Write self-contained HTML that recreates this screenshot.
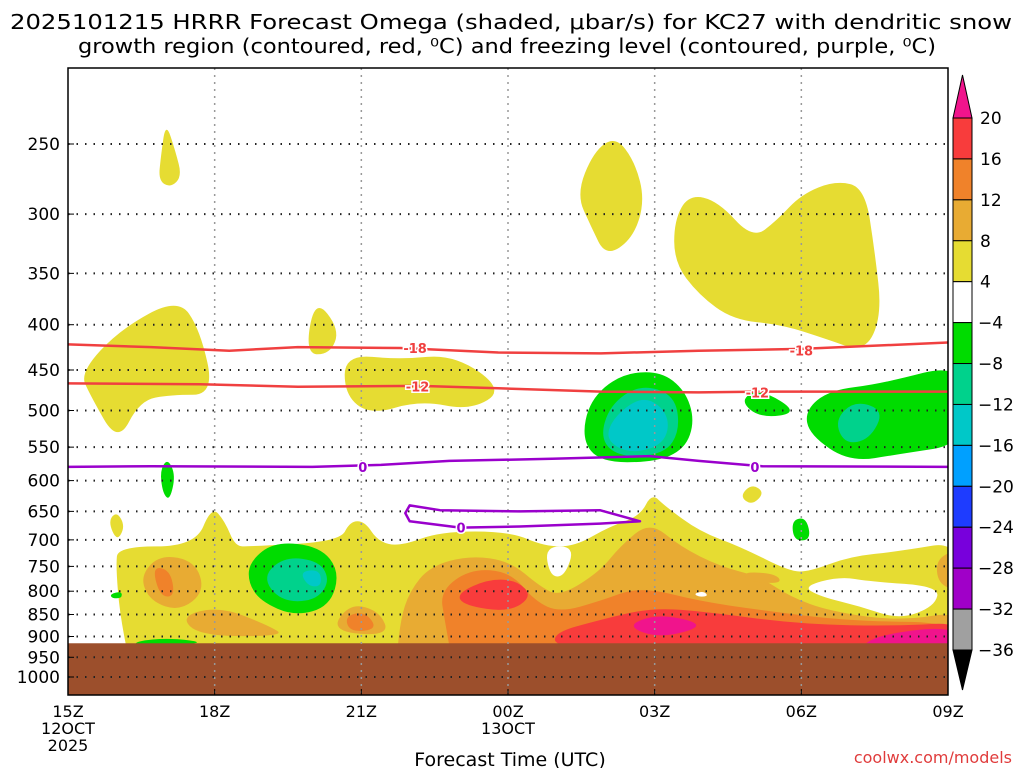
<!DOCTYPE html>
<html><head><meta charset="utf-8"><style>
html,body{margin:0;padding:0;background:#fff;}
svg{display:block;}
text{font-family:"DejaVu Sans","Liberation Sans",sans-serif;}
</style></head><body>
<svg id="chart" width="1024" height="768" viewBox="0 0 1024 768" xmlns="http://www.w3.org/2000/svg">
<text x="10" y="29" font-size="20" textLength="1002" lengthAdjust="spacingAndGlyphs">2025101215 HRRR Forecast Omega (shaded, μbar/s) for KC27 with dendritic snow</text>
<text x="78" y="53" font-size="20" textLength="858" lengthAdjust="spacingAndGlyphs">growth region (contoured, red, ⁰C) and freezing level (contoured, purple, ⁰C)</text>
<defs><clipPath id="plotclip"><rect x="68" y="68" width="880" height="627"/></clipPath></defs>
<g id="shades" clip-path="url(#plotclip)"></g>
<g id="grid"></g>
<g id="contours" clip-path="url(#plotclip)"></g>
<g id="axes"></g>
<g id="cbar"></g>
<text x="510" y="766" font-size="19" text-anchor="middle">Forecast Time (UTC)</text>
<text x="1012" y="763" font-size="16" fill="#e03c3c" text-anchor="end">coolwx.com/models</text>
</svg>
<script>
// ---- axes data ----
const pressureTicks = [250,300,350,400,450,500,550,600,650,700,750,800,850,900,950,1000];
const timeTicks = [0,3,6,9,12,15,18];
const timeLabels = ["15Z","18Z","21Z","00Z","03Z","06Z","09Z"];
const dateLabels = {0:["12OCT","2025"],9:["13OCT"]};
const cbarLevels = [20,16,12,8,4,-4,-8,-12,-16,-20,-24,-28,-32,-36];
const cbarColors = ["#f83c3c","#f0822a","#e8ab33","#e6dc32","#ffffff","#00dc00","#00d28c","#00c8c8","#00a0ff","#1e3cff","#7800dc","#a000c8","#a0a0a0"];
const groundPressure = 916;

// ---- shaded omega areas (hour since 15Z, pressure hPa) ----
const yellowAreas = [
 [[1.85,275],[1.9,258],[2.0,236],[2.2,255],[2.33,272],[2.1,280]],
 [[10.4,285],[10.75,255],[11.2,245],[11.6,262],[11.8,290],[11.55,320],[11.0,335],[10.7,310]],
 [[12.4,305],[12.7,285],[13.3,290],[14.0,320],[14.5,305],[15.0,285],[15.7,275],[16.3,280],[16.5,330],[16.65,390],[16.3,430],[15.5,415],[14.6,400],[13.6,395],[12.9,370],[12.4,340]],
 [[0.25,453],[1.06,405],[2.25,373],[2.7,405],[3.0,480],[2.1,480],[1.47,487],[1.02,545],[0.45,480]],
 [[4.85,432],[5.05,373],[5.56,405],[5.36,432]],
 [[5.66,432],[6.79,438],[7.9,432],[8.93,474],[8.22,500],[7.2,487],[6.18,506],[5.66,480]],
 [[13.74,625],[13.99,605],[14.25,619],[13.99,640]],
 [[0.82,667],[1.0,650],[1.17,676],[1.0,703]],
 [[1.02,712],[2.6,712],[2.94,641],[3.21,667],[3.42,712],[3.72,712],[5.56,703],[5.77,667],[6.07,667],[6.34,703],[6.79,712],[7.61,685],[9.04,685],[9.75,712],[10.37,712],[11.08,676],[11.7,658],[11.94,620],[12.21,641],[12.92,685],[13.74,712],[14.76,760],[15.17,760],[15.99,731],[17.01,721],[18.4,700],[18.4,990],[1.3,990],[1.06,850],[0.98,750]]
];
const goldAreas = [
 [[1.47,770],[1.88,727],[2.6,740],[2.8,800],[2.29,843],[1.68,821]],
 [[2.29,854],[3.11,832],[4.13,876],[4.44,899],[2.7,899]],
 [[5.36,888],[5.77,825],[6.38,843],[6.58,899]],
 [[6.79,865],[6.99,800],[7.4,750],[8.22,729],[9.04,740],[9.65,790],[10.06,811],[10.88,760],[11.29,712],[11.9,667],[12.52,712],[13.33,750],[14.15,770],[14.76,811],[15.58,843],[17.01,865],[18.4,840],[18.4,990],[6.7,990]],
 [[17.75,731],[18.4,715],[18.4,800],[17.8,790]],
 [[13.8,760],[14.5,765],[14.6,785],[13.9,780]]
];
const orangeAreas = [
 [[1.72,750],[2.09,757],[2.19,811],[1.88,811]],
 [[5.66,854],[6.07,843],[6.34,883],[5.77,890]],
 [[7.61,800],[8.22,755],[9.04,760],[9.55,821],[10.06,845],[10.88,821],[11.7,790],[12.92,821],[14.15,840],[15.99,865],[18.4,868],[18.4,990],[7.9,990],[7.71,865]]
];
const redAreas = [
 [[7.95,805],[8.6,775],[9.2,778],[9.5,812],[9.0,845],[8.1,830]],
 [[9.96,890],[10.88,862],[11.9,836],[12.92,842],[14.97,872],[17.01,876],[18.4,866],[18.4,990],[14.97,960],[11.9,960],[9.96,925]]
];
const magentaAreas = [
 [[11.4,875],[12.1,848],[13.1,874],[12.1,905]],
 [[16.2,902],[18.4,870],[18.4,990],[16.4,960]]
];
const greenAreas = [
 [[10.51,539],[10.67,487],[11.29,455],[12.1,451],[12.62,474],[12.82,513],[12.62,553],[12.0,572],[10.88,572]],
 [[15.07,500],[15.58,474],[16.6,467],[18.4,440],[18.4,545],[17.01,560],[15.99,572],[15.17,533]],
 [[13.74,487],[14.15,472],[14.97,503],[14.15,510]],
 [[1.88,585],[2.04,566],[2.2,592],[2.08,632],[1.94,620]],
 [[14.8,665],[15.1,660],[15.2,700],[14.85,702]],
 [[3.68,780],[3.72,740],[4.23,703],[5.15,712],[5.56,760],[5.36,832],[4.64,854],[3.93,821]],
 [[0.86,806],[1.1,800],[1.1,815],[0.9,815]],
 [[16.6,805],[17.0,795],[17.22,820],[16.9,845],[16.6,830]],
 [[1.37,911],[2.09,903],[2.9,916],[1.4,925]]
];
const tealAreas = [
 [[10.88,539],[11.08,493],[11.7,467],[12.41,480],[12.52,526],[12.21,560],[11.29,565]],
 [[15.68,513],[16.09,487],[16.7,500],[16.4,539],[15.89,546]],
 [[3.97,770],[4.44,731],[5.15,740],[5.36,780],[5.05,821],[4.34,821]]
];
const cyanAreas = [
 [[10.98,539],[11.19,506],[11.8,480],[12.31,506],[12.21,546],[11.49,560]],
 [[4.74,760],[5.15,756],[5.19,790],[4.91,790]]
];
const whiteAreas = [
 [[9.75,712],[10.37,712],[10.16,770],[9.86,770]],
 [[15.03,790],[15.79,770],[16.4,780],[17.83,790],[17.73,832],[17.01,861],[16.2,832],[15.38,811]],
 [[12.8,805],[13.0,800],[13.1,810],[12.9,812]]
];

// ---- contour lines ----
const dgz18Hours = [0,1.7,3.3,4.7,6.8,8.8,10.9,12.9,15.0,18];
const dgz18Press = [421,424,428,424,425,430,431,428,426,419];
const dgz12Hours = [0,2.7,4.7,7.2,8.8,10.9,12.9,14.2,18];
const dgz12Press = [466,467,470,469,472,476,477,476,476];
const frzHours = [0,1.7,5.0,6.4,7.8,9.9,11.9,12.9,14.2,18];
const frzPress = [579,578,579,576,570,567,563,570,578,579];
const frzLoopHours = [6.99,7.61,9.24,10.88,11.7,10.88,9.24,8.02,6.99,6.9];
const frzLoopPress = [640,648,650,648,667,671,676,678,667,653];

const NS="http://www.w3.org/2000/svg";
const X0=68,X1=948,PXH=(X1-X0)/18;
function xs(h){return X0+h*PXH;}
function ys(p){return 144+Math.log(p/250)/Math.log(4)*533;}
function mk(tag,attrs,parent){const e=document.createElementNS(NS,tag);for(const k in attrs)e.setAttribute(k,attrs[k]);parent.appendChild(e);return e;}
function smoothPath(pts){
 const P=pts.map(q=>[xs(q[0]),ys(q[1])]);const n=P.length;
 const mid=(a,b)=>[(a[0]+b[0])/2,(a[1]+b[1])/2];
 let m=mid(P[0],P[1]);let d="M"+m[0].toFixed(1)+","+m[1].toFixed(1);
 for(let i=1;i<=n;i++){const c=P[i%n],nx=mid(P[i%n],P[(i+1)%n]);d+=" Q"+c[0].toFixed(1)+","+c[1].toFixed(1)+" "+nx[0].toFixed(1)+","+nx[1].toFixed(1);}
 return d+"Z";
}
const shades=document.getElementById('shades');
function drawAreas(list,color,name){
 list.forEach(a=>{
  const el=mk('path',{d:smoothPath(a),fill:color},shades);
  
  
 });
}
drawAreas(yellowAreas,"#e6dc32","omega-4-8-area");
drawAreas(goldAreas,"#e8ab33","omega-8-12-area");
drawAreas(orangeAreas,"#f0822a","omega-12-16-area");
drawAreas(redAreas,"#f83c3c","omega-16-20-area");
drawAreas(magentaAreas,"#f0148c","omega-above-20-area");
drawAreas(greenAreas,"#00dc00","omega-neg4-neg8-area");
drawAreas(tealAreas,"#00d28c","omega-neg8-neg12-area");
drawAreas(cyanAreas,"#00c8c8","omega-neg12-neg16-area");
drawAreas(whiteAreas,"#ffffff","omega-neutral-area");
const ground=mk('rect',{x:X0,y:ys(groundPressure),width:X1-X0,height:695-ys(groundPressure),fill:"#9c4f2c"},shades);



// grid
const grid=document.getElementById('grid');
pressureTicks.forEach(p=>{
 const l=mk('line',{x1:X0,x2:X1,y1:ys(p),y2:ys(p),stroke:"#222","stroke-width":2,"stroke-dasharray":"1.5 7"},grid);
 
 
});
timeTicks.slice(1,-1).forEach(h=>{
 const l=mk('line',{x1:xs(h),x2:xs(h),y1:68,y2:695,stroke:"#999","stroke-width":1.5,"stroke-dasharray":"2 5"},grid);
 
 
});

// contours
const cg=document.getElementById('contours');
function drawLine(hs,ps,color,closed,name){
 let d=hs.map((h,i)=>(i?"L":"M")+xs(h).toFixed(1)+","+ys(ps[i]).toFixed(1)).join(" ");
 if(closed)d+="Z";
 const el=mk('path',{d:d,fill:"none",stroke:color,"stroke-width":2.5,"stroke-linejoin":"round"},cg);
 
 
}
function drawLabel(h,p,txt,color,name){
 const x=xs(h),y=ys(p);
 const t=mk('text',{x:x,y:y+5,"font-size":13,"font-weight":"bold",fill:color,"text-anchor":"middle",stroke:"#fff","stroke-width":3,"paint-order":"stroke"},cg);
 t.textContent=txt;
 
 
}
drawLine(dgz18Hours,dgz18Press,"#f04040",false,"minus18c-contour");
drawLine(dgz12Hours,dgz12Press,"#f04040",false,"minus12c-contour");
drawLine(frzHours,frzPress,"#9a00cc",false,"freezing-level-contour");
drawLine(frzLoopHours,frzLoopPress,"#9a00cc",true,"freezing-level-loop-contour");
drawLabel(7.1,425,"-18","#f04040","minus18-label");
drawLabel(15.0,428,"-18","#f04040","minus18-label");
drawLabel(7.15,470,"-12","#f04040","minus12-label");
drawLabel(14.1,477,"-12","#f04040","minus12-label");
drawLabel(6.03,579,"0","#9a00cc","freezing-label");
drawLabel(14.05,579,"0","#9a00cc","freezing-label");
drawLabel(8.04,678,"0","#9a00cc","freezing-label");

// axes
const ax=document.getElementById('axes');
mk('rect',{x:X0,y:68,width:X1-X0,height:627,fill:"none",stroke:"#000","stroke-width":1.5},ax);
pressureTicks.forEach(p=>{
 const t=mk('text',{x:60,y:ys(p)+6,"font-size":17,"text-anchor":"end"},ax);
 t.textContent=p;
 
 
 mk('line',{x1:X0,x2:X0+6,y1:ys(p),y2:ys(p),stroke:"#000"},ax);
});
timeTicks.forEach((h,i)=>{
 const x=xs(h);
 mk('line',{x1:x,x2:x,y1:689,y2:695,stroke:"#000"},ax);
 const t=mk('text',{x:x,y:717,"font-size":16,"text-anchor":"middle"},ax);
 t.textContent=timeLabels[i];
 
 
 (dateLabels[h]||[]).forEach((s,j)=>{
  const d=mk('text',{x:x,y:734+17*j,"font-size":16,"text-anchor":"middle"},ax);
  d.textContent=s;
  
  
 });
});

// colorbar
const cb=document.getElementById('cbar');
const cTop=118,cBot=650,cx0=953,cx1=972,seg=(cBot-cTop)/cbarColors.length;
const topArrow=mk('polygon',{points:`${cx0},${cTop} ${cx1},${cTop} ${(cx0+cx1)/2},75`,fill:"#f0148c",stroke:"#000"},cb);


cbarColors.forEach((c,i)=>{
 const r=mk('rect',{x:cx0,y:cTop+i*seg,width:cx1-cx0,height:seg,fill:c,stroke:"#000","stroke-width":1},cb);
 
 
});
const botArrow=mk('polygon',{points:`${cx0},${cBot} ${cx1},${cBot} ${(cx0+cx1)/2},690`,fill:"#000",stroke:"#000"},cb);


cbarLevels.forEach((v,i)=>{
 const t=mk('text',{x:v<0?978:980,y:cTop+i*seg+6,"font-size":17},cb);
 t.textContent=v<0?"−"+(-v):String(v);
 
 
});
</script>
</body></html>
